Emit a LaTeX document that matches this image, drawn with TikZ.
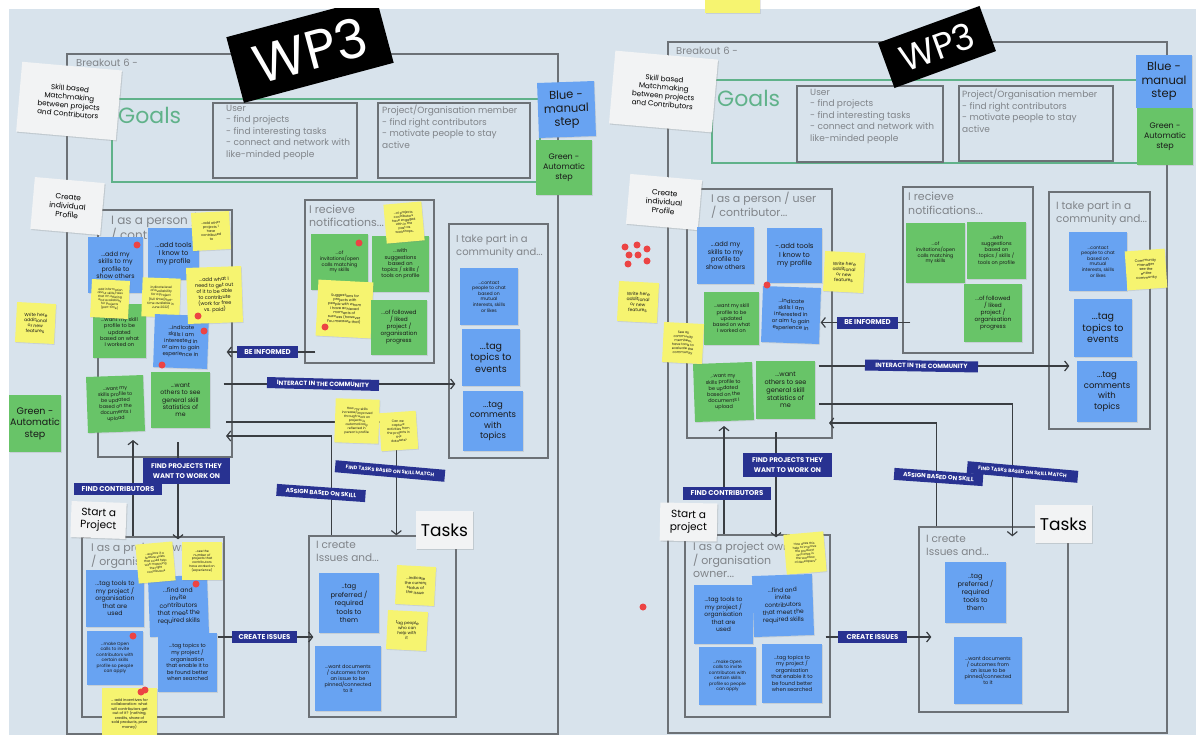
\documentclass[tikz,border=0pt]{standalone}
\usepackage{fontspec}
\setmainfont{Poppins}
\usetikzlibrary{arrows.meta,shadows,positioning}

\definecolor{boardbg}{RGB}{216,227,236}
\definecolor{framegray}{RGB}{108,113,118}
\definecolor{titlegray}{RGB}{128,132,137}
\definecolor{goalgreen}{RGB}{96,178,138}
\definecolor{noteblue}{RGB}{104,163,242}
\definecolor{notegreen}{RGB}{104,196,104}
\definecolor{noteyellow}{RGB}{246,244,112}
\definecolor{cardwhite}{RGB}{242,243,244}
\definecolor{tagblue}{RGB}{40,50,145}
\definecolor{linedark}{RGB}{58,62,66}
\definecolor{dotred}{RGB}{236,68,68}

\begin{document}
\begin{tikzpicture}[x=1pt, y=-1pt,
    wh/.style 2 args={minimum width=#1pt, minimum height=#2pt},
    fs/.style 2 args={font=\fontsize{#1}{#2}\selectfont},
    tagfs/.style 2 args={font=\fontsize{#1}{#2}\selectfont\bfseries},
    frame/.style={rectangle, draw=framegray, line width=1.3pt, inner sep=0pt},
    title/.style={anchor=north west, align=left, inner sep=0pt, text=titlegray},
    note/.style={rectangle, align=center, inner sep=1pt, text=black!90,
        drop shadow={shadow xshift=0.7pt, shadow yshift=-0.9pt, opacity=0.2}},
    bluenote/.style={note, fill=noteblue},
    greennote/.style={note, fill=notegreen},
    yellownote/.style={note, fill=noteyellow},
    card/.style={rectangle, align=center, inner sep=1pt, fill=cardwhite, text=black,
        drop shadow={shadow xshift=1pt, shadow yshift=-1.2pt, opacity=0.25}},
    tag/.style={rectangle, align=center, inner sep=1pt, fill=tagblue, text=white},
    wp/.style={rectangle, fill=black, text=white, inner sep=0pt},
    arrow/.style={-{Straight Barb[length=4pt,width=10pt]}, line width=1.2pt, draw=linedark}
]
\useasboundingbox (0,0) rectangle (1196,735);
\fill[boardbg] (9,9) rectangle (1196,735);

% ---------------- left board ----------------
\node[frame, wh={491}{680}] (breakL) at (312.5,394) {};
\node[frame, draw=goalgreen, line width=1.1pt, wh={428}{83}] (goalsL) at (326,140.5) {};
\node[frame, wh={144}{75}] (userL) at (285,140.5) {};
\node[frame, wh={152}{75}] (orgL) at (454,140.5) {};
\node[frame, wh={134}{247}] (personL) at (165,333.5) {};
\node[frame, wh={129}{163}] (notifL) at (369.5,281.5) {};
\node[frame, wh={99}{234}] (commL) at (498.5,341) {};
\node[frame, wh={142}{180}] (ownerL) at (153,627) {};
\node[frame, wh={147}{181}] (issuesL) at (382.5,626.5) {};

\node[title, fs={10}{12}] (breakTitleL) at (76,59) {Breakout 6 -};
\node[anchor=west, inner sep=0pt, text=goalgreen, fs={22}{24}] (goalsTitleL) at (118,115) {Goals};
\node[title, fs={9}{11.5}] (userTextL) at (226,105) {User\\- find projects\\- find interesting tasks\\- connect and network with\\like-minded people};
\node[title, fs={9}{11.5}] (orgTextL) at (382,105) {Project/Organisation member\\- find right contributors\\- motivate people to stay\\active};
\node[title, fs={12}{14}] (personTitleL) at (111,213) {I as a person / user\\/ contributor...};
\node[title, fs={11}{13}] (notifTitleL) at (309,205) {I recieve\\notifications...};
\node[title, fs={10}{12.5}] (commTitleL) at (456,235) {I take part in a\\community and...};
\node[title, fs={11}{12.5}] (ownerTitleL) at (91,543) {I as a project owner\\/ organisation\\owner...};
\node[title, fs={10.5}{13}] (issuesTitleL) at (316,541) {I create\\Issues and...};

\begin{scope}
  \clip (0,9) rectangle (600,120);
  \node[wp, wh={155}{68}, rotate=15, fs={54}{56}] (wpL) at (310,50) {WP3};
\end{scope}

% cards and keys
\node[card, wh={100}{70}, rotate=-5, fs={7.2}{8.6}] (skillL) at (69,101) {Skill based\\Matchmaking\\between projects\\and  Contributors};
\node[card, wh={70}{52}, rotate=-5, fs={7.5}{9}] (profileL) at (67.5,206) {Create\\individual\\Profile};
\node[card, wh={55}{36}, rotate=-2, fs={10.5}{12.5}] (startL) at (98.5,520) {Start a\\Project};
\node[card, wh={57}{38}, fs={17}{20}] (tasksL) at (444.5,530) {Tasks};
\node[bluenote, wh={57}{55}, rotate=2, fs={11.5}{13.5}] (blueKeyL) at (566.5,109.5) {Blue -\\manual\\step};
\node[greennote, wh={56}{55}, fs={8}{9.8}] (greenKeyL) at (564,167.5) {Green -\\Automatic\\step};
\node[greennote, wh={52}{57}, fs={9.5}{11.5}] (greenSideL) at (35,423.5) {Green -\\Automatic\\step};
\node[yellownote, wh={39}{40}, rotate=-3, fs={4.5}{5.4}] (featuresL) at (35.5,323) {Write here\\additional\\or new\\features};

% person stickies
\node[bluenote, wh={55}{56}, fs={6.3}{7.4}] (addSkillsL) at (115.5,265) {...add my\\skills to my\\profile to\\show others};
\node[bluenote, wh={51}{52}, fs={6.8}{8}] (addToolsL) at (173.5,254) {...add tools\\I know to\\my profile};
\node[yellownote, wh={38}{38}, rotate=3, fs={3.4}{4}] (addOtherL) at (211,231) {...add other\\projects I\\have\\contributed\\to};
\node[greennote, wh={53}{54}, fs={5.2}{6.2}] (workedOnL) at (119.5,331) {\\...want my skill\\profile to be\\updated\\based on what\\I worked on};
\node[yellownote, wh={38}{38}, rotate=-3, fs={3}{3.6}] (infoL) at (110,299) {add information\\about skills/roles\\that I'm offering\\and availability\\for projects\\(part-time)};
\node[yellownote, wh={38}{39}, rotate=-2, fs={3.2}{3.8}] (availL) at (161,297.5) {indicate level\\of availability\\for a project\\(full time/part-\\time available in\\June 2022)};
\node[bluenote, wh={54}{53}, rotate=-2, fs={5.4}{6.6}] (indicateL) at (181,341.5) {...indicate\\skills I am\\interested in\\or aim to gain\\experience in};
\node[yellownote, wh={55}{56}, rotate=2, fs={5}{6}] (needL) at (214.5,295) {...add what I\\need to get out\\of it to be able\\to contribute\\(work for free\\vs. paid)};
\node[greennote, wh={57}{56}, rotate=2, fs={4.9}{6}] (documentsL) at (115.5,404) {...want my\\skills profile to\\be updated\\based on the\\documents I\\upload};
\node[greennote, wh={59}{56}, fs={6.2}{7.4}] (statsL) at (180.5,400) {...want\\others to see\\general skill\\statistics of\\me};

% notification stickies
\node[greennote, wh={57}{56}, fs={4.8}{5.8}] (invitationsL) at (339.5,262) {...of\\invitations/open\\calls matching\\my skills};
\node[greennote, wh={57}{56}, fs={5.2}{6.3}] (suggestionsL) at (400.5,264) {...with\\suggestions\\based on\\topics / skills /\\tools on profile};
\node[yellownote, wh={38}{39}, rotate=5, fs={3.2}{3.8}] (engagedL) at (404,222.5) {...of projects\\contributors\\have engaged\\with in the\\past as\\workshops..};
\node[yellownote, wh={55}{56}, rotate=-3, fs={3.6}{4.3}] (successL) at (344.5,309) {Suggestions for\\projects with\\people with whom\\I have achieved\\moments of\\success (however\\you measure that)};
\node[greennote, wh={56}{55}, fs={5.8}{7}] (followedL) at (399,327.5) {...of followed\\/ liked\\project /\\organisation\\progress};

% community stickies
\node[bluenote, wh={58}{57}, fs={4.6}{5.6}] (contactL) at (489,296.5) {...contact\\people to chat\\based on\\mutual\\interests, skills\\or likes};
\node[bluenote, wh={58}{57}, fs={9.5}{11.5}] (eventsL) at (491,357.5) {...tag\\topics to\\events};
\node[bluenote, wh={60}{60}, fs={8.5}{10.5}] (commentsL) at (493,421) {...tag\\comments\\with\\topics};

% owner stickies
\node[bluenote, wh={58}{57}, fs={6.2}{7.6}] (tagToolsL) at (115,598.5) {...tag tools to\\my project /\\organisation\\that are\\used};
\node[bluenote, wh={59}{60}, rotate=2, fs={6.2}{7.6}] (inviteL) at (178.5,606) {...find and\\invite\\contributors\\that meet the\\required skills};
\node[bluenote, wh={56}{54}, fs={4.4}{5.5}] (openCallsL) at (115,658) {...make Open\\calls to invite\\contributors with\\certain skills\\profile so people\\can apply};
\node[bluenote, wh={59}{59}, fs={5.3}{6.6}] (tagTopicsL) at (187.5,662.5) {...tag topics to\\my project /\\organisation\\that enable it to\\be found better\\when searched};
\node[yellownote, wh={37}{39}, rotate=5, fs={3}{3.6}] (exploreL) at (155.5,562.5) {...explore if a\\feature exists\\that could help\\with matching\\the right\\contributors};
\node[yellownote, wh={40}{38}, fs={3.2}{3.8}] (seeNumberL) at (202,561) {...see the\\number of\\projects that\\contributors\\have worked on\\(experience)};
\node[yellownote, wh={55}{52}, fs={3.7}{4.5}] (incentivesL) at (129.5,714) {... add incentives for\\collaboration: what\\will contributors get\\out of it? (nothing,\\credits, share of\\sold products, prize\\money)};

% issue stickies
\node[bluenote, wh={60}{60}, fs={6.8}{8.2}] (preferredL) at (349,603) {..tag\\preferred /\\required\\tools to\\them};
\node[yellownote, wh={39}{39}, rotate=-3, fs={4}{4.8}] (statusL) at (415.5,585.5) {...indicate\\the current\\status of\\the issue};
\node[yellownote, wh={40}{39}, rotate=-3, fs={4.2}{5}] (helpL) at (407,630.5) {tag people\\who can\\help with\\it};
\node[bluenote, wh={66}{65}, fs={5}{6}] (pinnedL) at (348,678.5) {...want documents\\/ outcomes from\\an issue to be\\pinned/connected\\to it};

% red dots
\foreach \dx/\dy in {137/245, 198/316, 204/331, 162/365, 359/243, 325/327, 196/584, 133/636, 141/692, 145/690}
  \fill[dotred] (\dx,\dy) circle (3.5pt);

% connectors
\coordinate (beL) at (267.5,352);
\coordinate (interactL) at (323,384);
\coordinate (matchRowL) at (226,422);
\coordinate (assignRowL) at (226,436);
\coordinate (projStartL) at (178,442);
\coordinate (contribColL) at (133,440);
\coordinate (issuesArrL) at (264.5,637);

\draw[arrow] ([xshift=11pt]notifL.west |- beL) -- ([xshift=-6pt]personL.east |- beL);
\draw[arrow] ([xshift=-9pt]personL.east |- interactL) -- ([xshift=7pt]commL.west |- interactL);
\draw[arrow] (matchRowL) -| ([xshift=88pt]issuesL.north west);
\draw[arrow] ([xshift=23pt]issuesL.north west) |- (assignRowL);
\draw[arrow] (projStartL) -- ([yshift=-3pt]projStartL |- ownerL.north);
\draw[arrow] (ownerL.north -| contribColL) -- (contribColL);
\draw[arrow] ([xshift=-7pt]ownerL.east |- issuesArrL) -- ([xshift=5pt]issuesL.west |- issuesArrL);

\node[yellownote, wh={44}{44}, rotate=-2, fs={3.2}{3.9}] (growL) at (357,421) {How my skills\\increase/improved\\through work on\\projects is\\automatically\\reflected in\\person's profile};
\node[yellownote, wh={37}{38}, rotate=4, fs={3.2}{3.9}] (captureL) at (398.5,431) {Can we\\capture\\activities from\\the projects in\\the\\datasets?};

\node[tag, wh={61}{12}, tagfs={7}{8.4}] (tagBeL) at (beL) {BE INFORMED};
\node[tag, wh={112}{11}, rotate=-1.5, tagfs={6.2}{7.4}] (tagInteractL) at (interactL) {INTERACT IN THE COMMUNITY};
\node[tag, wh={110}{12}, rotate=-5, tagfs={5}{6}] (tagFindTasksL) at (390,471) {FIND TASKS BASED ON SKILL MATCH};
\node[tag, wh={89}{12}, rotate=-4, tagfs={6}{7.2}] (tagAssignL) at (321,493) {ASSIGN BASED ON SKILL};
\node[tag, wh={87}{26}, tagfs={6.8}{10}] (tagProjL) at (186.5,471) {FIND PROJECTS THEY\\WANT TO WORK ON};
\node[tag, wh={88}{12}, tagfs={7}{8.4}] (tagContribL) at (118,489) {FIND CONTRIBUTORS};
\node[tag, wh={65}{12}, tagfs={7}{8.4}] (tagIssuesL) at (issuesArrL) {CREATE ISSUES};

% ---------------- right board ----------------
\node[yellownote, wh={55}{14}] (topNoteR) at (732.5,6) {};
\node[frame, wh={499}{691}] (breakR) at (917.5,387.5) {};
\node[frame, draw=goalgreen, line width=1.1pt, wh={433}{83}] (goalsR) at (928.5,121.5) {};
\node[frame, wh={146}{76}] (userR) at (870,124) {};
\node[frame, wh={154}{75}] (orgR) at (1036,123.5) {};
\node[frame, wh={145}{249}] (personR) at (759.5,313.5) {};
\node[frame, wh={130}{166}] (notifR) at (968,270) {};
\node[frame, wh={101}{237}] (commR) at (1099.5,310.5) {};
\node[frame, wh={145}{182}] (ownerR) at (757.5,626) {};
\node[frame, wh={149}{185}] (issuesR) at (993.5,619.5) {};

\node[title, fs={10}{12}] (breakTitleR) at (676,47) {Breakout 6 -};
\node[anchor=west, inner sep=0pt, text=goalgreen, fs={22}{24}] (goalsTitleR) at (717,98) {Goals};
\node[title, fs={9}{11.5}] (userTextR) at (810,89) {User\\- find projects\\- find interesting tasks\\- connect and network with\\like-minded people};
\node[title, fs={9}{11.5}] (orgTextR) at (962,89) {Project/Organisation member\\- find right contributors\\- motivate people to stay\\active};
\node[title, fs={11}{13}] (personTitleR) at (711,192) {I as a person / user\\/ contributor...};
\node[title, fs={11}{13.5}] (notifTitleR) at (908,192) {I recieve\\notifications...};
\node[title, fs={10.5}{13.5}] (commTitleR) at (1056,201) {I take part in a\\community and...};
\node[title, fs={11}{12.5}] (ownerTitleR) at (693,542) {I as a project owner\\/ organisation\\owner...};
\node[title, fs={10.5}{13}] (issuesTitleR) at (926,535) {I create\\Issues and...};

\node[wp, wh={108}{48}, rotate=20, fs={36}{38}] (wpR) at (937,47) {WP3};

\node[card, wh={103}{73}, rotate=-5, fs={7.2}{8.6}] (skillR) at (663.5,91.5) {Skill based\\Matchmaking\\between projects\\and  Contributors};
\node[card, wh={72}{50}, rotate=-5, fs={7.5}{9}] (profileR) at (664,202) {Create\\individual\\Profile};
\node[card, wh={57}{38}, rotate=-1, fs={10.5}{12.5}] (startR) at (688.5,522) {Start a\\project};
\node[card, wh={57}{38}, fs={17}{20}] (tasksR) at (1063.5,524) {Tasks};
\node[bluenote, wh={56}{53}, fs={11.5}{13.5}] (blueKeyR) at (1164,81.5) {Blue -\\manual\\step};
\node[greennote, wh={56}{57}, fs={8}{9.8}] (greenKeyR) at (1165,136.5) {Green -\\Automatic\\step};

% person stickies
\node[bluenote, wh={57}{57}, fs={6.5}{7.6}] (addSkillsR) at (725.5,255.5) {...add my\\skills to my\\profile to\\show others};
\node[bluenote, wh={55}{55}, fs={7}{8.2}] (addToolsR) at (794.5,255.5) {-.add tools\\I know to\\my profile};
\node[yellownote, wh={40}{40}, rotate=-3, fs={4.5}{5.4}] (featuresInR) at (844,272) {Write here\\additional\\or new\\features};
\node[greennote, wh={55}{53}, fs={5}{6.2}] (workedOnR) at (731.5,318.5) {...want my skill\\profile to be\\updated\\based on what\\I worked on};
\node[bluenote, wh={58}{56}, rotate=-2, fs={5.4}{6.6}] (indicateR) at (791,315) {...indicate\\skills I am\\interested in\\or aim to gain\\experience in};
\node[greennote, wh={59}{58}, rotate=2, fs={5}{6.2}] (documentsR) at (723.5,392) {...want my\\skills profile to\\be updated\\based on the\\documents I\\upload};
\node[greennote, wh={59}{58}, fs={6.5}{7.8}] (statsR) at (785.5,390) {...want\\others to see\\general skill\\statistics of\\me};
\node[yellownote, wh={40}{40}, rotate=-3, fs={4.5}{5.4}] (featuresOutR) at (638,302) {Write here\\additional\\or new\\features};
\node[yellownote, wh={40}{40}, rotate=-3, fs={3.4}{4}] (membersR) at (683,343) {See all\\community\\members,\\have tools to\\evaluate the\\community};

% notification stickies
\node[greennote, wh={59}{60}, fs={4.8}{5.8}] (invitationsR) at (935.5,253) {...of\\invitations/open\\calls matching\\my skills};
\node[greennote, wh={59}{57}, fs={5}{6.2}] (suggestionsR) at (996.5,250.5) {...with\\suggestions\\based on\\topics / skills /\\tools on profile};
\node[greennote, wh={58}{58}, fs={5.8}{7}] (followedR) at (993,313) {...of followed\\/ liked\\project /\\organisation\\progress};

% community stickies
\node[bluenote, wh={58}{59}, fs={4.6}{5.6}] (contactR) at (1098,261.5) {...contact\\people to chat\\based on\\mutual\\interests, skills\\or likes};
\node[yellownote, wh={40}{39}, rotate=4, fs={3.6}{4.3}] (managerR) at (1146,269.5) {Community\\manager\\see the\\entire\\community};
\node[bluenote, wh={58}{58}, fs={9.5}{11.5}] (eventsR) at (1103,328) {...tag\\topics to\\events};
\node[bluenote, wh={60}{61}, fs={8.5}{10.5}] (commentsR) at (1107,391.5) {...tag\\comments\\with\\topics};

% owner stickies
\node[yellownote, wh={40}{40}, rotate=5, fs={3}{3.6}] (howR) at (805,553) {How does this\\help to improve\\the product?\\and what is\\the workflow\\of developers?};
\node[bluenote, wh={59}{59}, fs={6}{7.4}] (tagToolsR) at (723.5,614.5) {...tag tools to\\my project /\\organisation\\that are\\used};
\node[bluenote, wh={60}{61}, rotate=2, fs={6}{7.4}] (inviteR) at (783,605.5) {...find and\\invite\\contributors\\that meet the\\required skills};
\node[bluenote, wh={57}{58}, fs={4.4}{5.5}] (openCallsR) at (727.5,676) {...make Open\\calls to invite\\contributors with\\certain skills\\profile so people\\can apply};
\node[bluenote, wh={60}{59}, fs={5.2}{6.5}] (tagTopicsR) at (792,673.5) {...tag topics to\\my project /\\organisation\\that enable it to\\be found better\\when searched};

% issue stickies
\node[bluenote, wh={61}{61}, fs={6.6}{8}] (preferredR) at (975.5,592.5) {..tag\\preferred /\\required\\tools to\\them};
\node[bluenote, wh={68}{67}, fs={5}{6}] (pinnedR) at (988,670.5) {...want documents\\/ outcomes from\\an issue to be\\pinned/connected\\to it};

% red dots
\foreach \dx/\dy in {767/285, 643/607, 625/247, 637/245, 647/249, 629/255, 638/255, 647/261, 628/264}
  \fill[dotred] (\dx,\dy) circle (3.5pt);

% connectors
\coordinate (beR) at (867.5,322.5);
\coordinate (interactR) at (921.5,366);
\coordinate (matchRowR) at (819,404);
\coordinate (assignRowR) at (829,423);
\coordinate (projStartR) at (776,432);
\coordinate (contribColR) at (724,426);
\coordinate (issuesArrR) at (872.5,637);

\draw[arrow] ([xshift=8pt]notifR.west |- beR) -- ([xshift=-12pt]personR.east |- beR);
\draw[arrow] ([xshift=-14pt]personR.east |- interactR) -- ([xshift=21pt]commR.west |- interactR);
\draw[arrow] (matchRowR) -| ([xshift=94pt, yshift=-10pt]issuesR.north west);
\draw[arrow] ([xshift=18pt]issuesR.north west) |- (assignRowR);
\draw[arrow] (projStartR) -- ([yshift=-3pt]projStartR |- ownerR.north);
\draw[arrow] (ownerR.north -| contribColR) -- (contribColR);
\draw[arrow] ([xshift=-5pt]ownerR.east |- issuesArrR) -- ([xshift=13pt]issuesR.west |- issuesArrR);

\node[tag, wh={61}{12}, tagfs={7}{8.4}] (tagBeR) at (beR) {BE INFORMED};
\node[tag, wh={113}{11}, rotate=-1, tagfs={6.2}{7.4}] (tagInteractR) at (interactR) {INTERACT IN THE COMMUNITY};
\node[tag, wh={111}{12}, rotate=-5, tagfs={5}{6}] (tagFindTasksR) at (1022.5,472) {FIND TASKS BASED ON SKILL MATCH};
\node[tag, wh={89}{12}, rotate=-4, tagfs={6}{7.2}] (tagAssignR) at (938.5,477) {ASSIGN BASED ON SKILL};
\node[tag, wh={89}{24}, tagfs={6.8}{10}] (tagProjR) at (787.5,465) {FIND PROJECTS THEY\\WANT TO WORK ON};
\node[tag, wh={88}{13}, tagfs={7}{8.4}] (tagContribR) at (727,493) {FIND CONTRIBUTORS};
\node[tag, wh={69}{12}, tagfs={7}{8.4}] (tagIssuesR) at (issuesArrR) {CREATE ISSUES};
\end{tikzpicture}
\end{document}
